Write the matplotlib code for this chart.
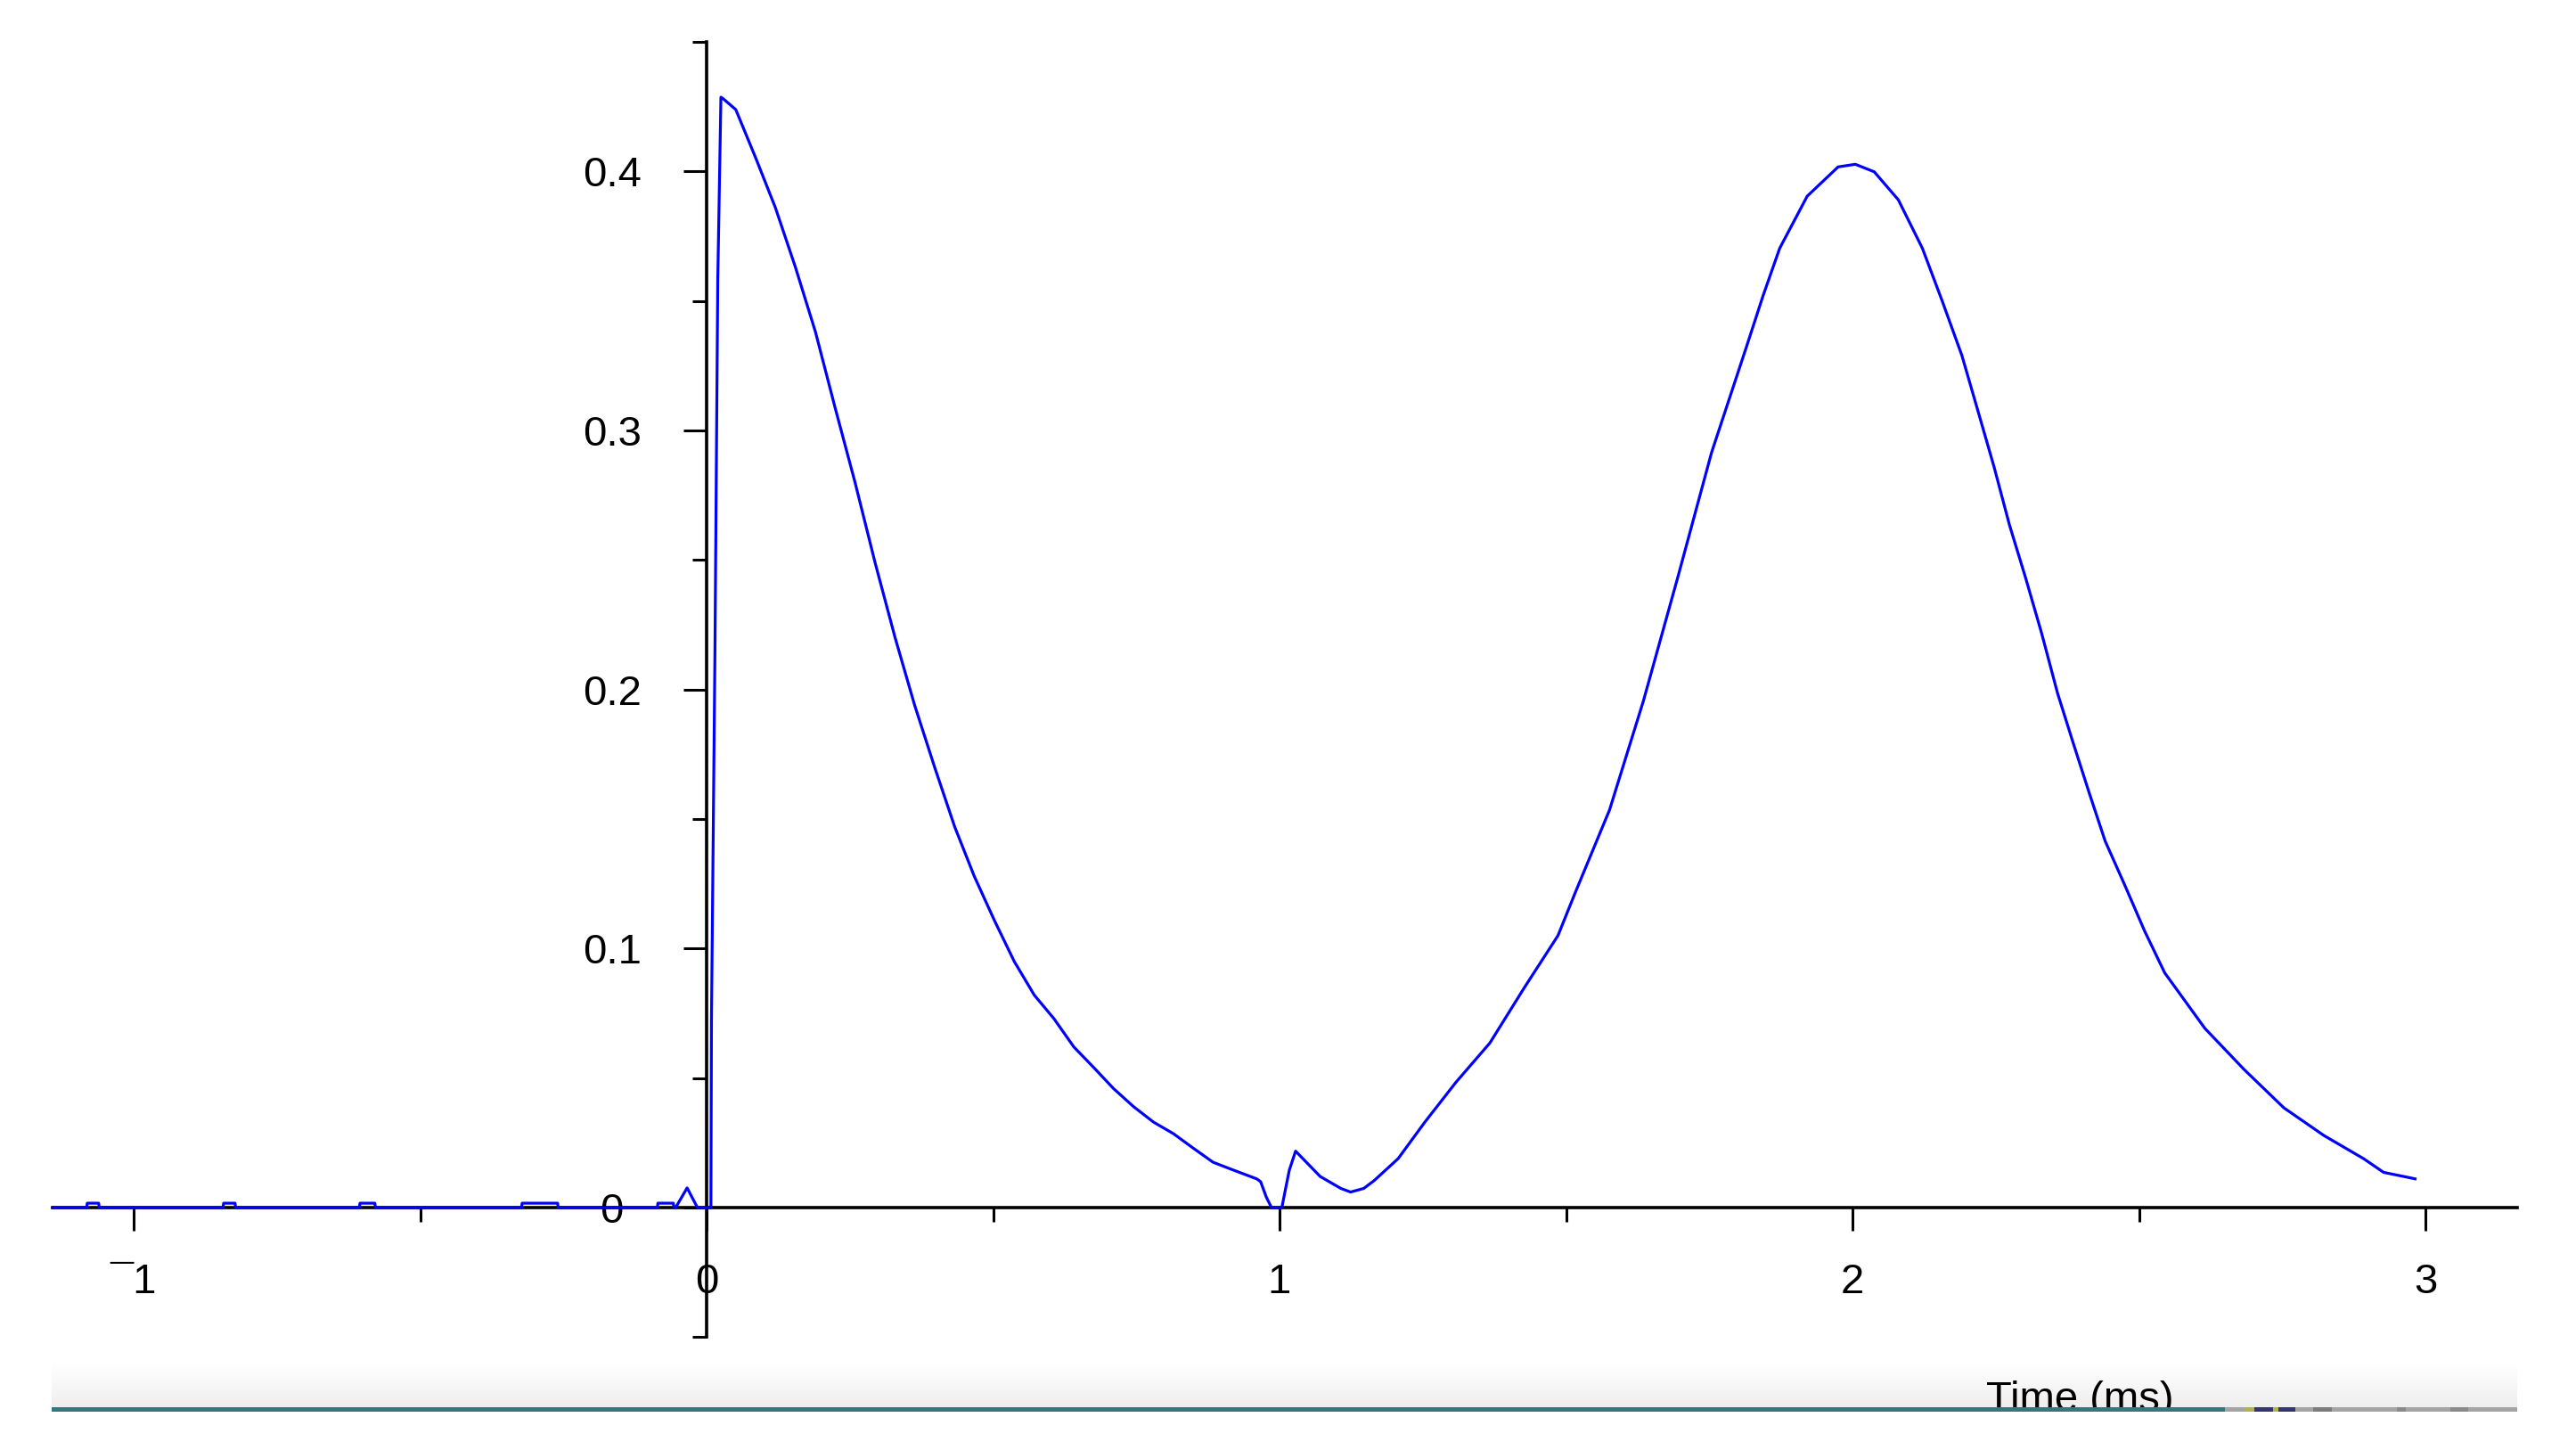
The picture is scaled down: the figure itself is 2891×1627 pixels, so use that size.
import numpy as np
import matplotlib
matplotlib.use("Agg")
import matplotlib.pyplot as plt
from matplotlib.patches import Rectangle

# values (time in ms, signal)
t_ms = [-1.14, -1.082, -1.081, -1.061, -1.060, -0.844, -0.843, -0.823, -0.822,
        -0.606, -0.605, -0.579, -0.578, -0.323, -0.322, -0.260, -0.259,
        -0.086, -0.085, -0.058, -0.057, -0.054, -0.034, -0.016,
        0.0075, 0.0085, 0.0146, 0.0195, 0.025, 0.029, 0.051, 0.086, 0.120,
        0.155, 0.190, 0.224, 0.259, 0.294, 0.329, 0.363, 0.398, 0.433, 0.467,
        0.502, 0.537, 0.572, 0.606, 0.641, 0.676, 0.710, 0.745, 0.780, 0.815,
        0.849, 0.884, 0.918, 0.960, 0.967, 0.977, 0.986, 1.004, 1.017, 1.028,
        1.071, 1.107, 1.124, 1.147, 1.165, 1.207, 1.254, 1.308, 1.367, 1.427,
        1.486, 1.516, 1.576, 1.635, 1.695, 1.754, 1.814, 1.844, 1.873, 1.921,
        1.975, 2.005, 2.038, 2.080, 2.122, 2.156, 2.191, 2.219, 2.247, 2.274,
        2.302, 2.330, 2.358, 2.385, 2.413, 2.441, 2.476, 2.510, 2.545, 2.615,
        2.684, 2.753, 2.823, 2.892, 2.927, 2.982]
signal = [0, 0, 0.0017, 0.0017, 0, 0, 0.0017, 0.0017, 0,
          0, 0.0017, 0.0017, 0, 0, 0.0017, 0.0017, 0,
          0, 0.0017, 0.0017, 0, 0, 0.0076, 0,
          0, 0.072, 0.215, 0.358, 0.4286, 0.428, 0.4238, 0.405, 0.386,
          0.363, 0.338, 0.309, 0.280, 0.249, 0.220, 0.194, 0.170, 0.147, 0.128,
          0.111, 0.095, 0.082, 0.073, 0.062, 0.054, 0.046, 0.039, 0.033, 0.0285,
          0.023, 0.0175, 0.0146, 0.0111, 0.010, 0.004, 0.0, 0.0, 0.0144, 0.0218,
          0.012, 0.0074, 0.006, 0.0074, 0.0104, 0.0189, 0.0331, 0.0484, 0.0635, 0.0848,
          0.1050, 0.1215, 0.1535, 0.1955, 0.2432, 0.2914, 0.3316, 0.352, 0.3703, 0.3904,
          0.4017, 0.4027, 0.3998, 0.389, 0.3703, 0.3503, 0.3289, 0.3075, 0.286, 0.2635,
          0.2432, 0.2218, 0.1985, 0.1795, 0.1602, 0.1415, 0.1241, 0.1067, 0.0906, 0.0692,
          0.0532, 0.0385, 0.0278, 0.0189, 0.0136, 0.0111]

x_major = [-1, 0, 1, 2, 3]
x_labels = ["\u00af1", "0", "1", "2", "3"]
x_minor = [-0.5, 0.5, 1.5, 2.5]
y_major = [0, 0.1, 0.2, 0.3, 0.4]
y_labels = ["0", "0.1", "0.2", "0.3", "0.4"]
y_minor = [-0.05, 0.05, 0.15, 0.25, 0.35, 0.45]
x_label = "Time (ms)"

W, H = 2891, 1627
fam = ["Liberation Sans Narrow", "Liberation Sans", "DejaVu Sans"]
plt.rcParams["font.family"] = fam

fig = plt.figure(figsize=(W / 100, H / 100), dpi=100)
fig.patch.set_facecolor("white")

# axes filling the whole image; origin at pixel (793, 1355)
x0, sx = 793, 643.0
y0, sy = 1355, 2907.0
ax = fig.add_axes([0, 0, 1, 1])
ax.set_xlim(-x0 / sx, (W - x0) / sx)
ax.set_ylim((y0 - H) / sy, y0 / sy)
ax.patch.set_alpha(0)

ax.plot(t_ms, signal, color="#0000ff", lw=2.3, zorder=3)

for side in ["top", "right"]:
    ax.spines[side].set_visible(False)
ax.spines["left"].set_position(("data", 0))
ax.spines["bottom"].set_position(("data", 0))
ax.spines["left"].set_bounds(-0.05, 0.45)
ax.spines["bottom"].set_bounds(-1.141, 3.16)
for side in ["left", "bottom"]:
    ax.spines[side].set_linewidth(2.6)

ax.set_xticks(x_major)
ax.set_xticklabels(x_labels)
ax.set_xticks(x_minor, minor=True)
ax.set_yticks(y_major)
ax.set_yticklabels(y_labels)
ax.set_yticks(y_minor, minor=True)

ax.tick_params(axis="both", which="major", direction="out", length=18.5, width=2.2,
               labelsize=34, colors="black")
ax.tick_params(axis="both", which="minor", direction="out", length=11.5, width=2.2)
ax.tick_params(axis="x", which="major", pad=26)
ax.tick_params(axis="y", which="major", pad=58)
for lbl in ax.get_yticklabels():
    lbl.set_horizontalalignment("center")

# bottom strip of the screenshot (window edge)
ov = fig.add_axes([0, 0, 1, 1], zorder=5)
ov.patch.set_alpha(0)
ov.axis("off")
grad = np.linspace(1.0, 0.935, 60)
img = np.dstack([np.repeat(grad[:, None], 2, axis=1)] * 3)
ov.imshow(img, extent=[58, 2825, 1579, 1530], aspect="auto", interpolation="bilinear", zorder=1)
ov.text(2334, 1549, x_label, ha="center", va="top", fontsize=34, color="black", zorder=2)
ov.add_patch(Rectangle((0, 1583.5), W, H - 1583.5, color="white", zorder=3, lw=0))
ov.add_patch(Rectangle((58, 1579), 2497 - 58, 4.5, color="#2f7a7d", zorder=4, lw=0))
ov.add_patch(Rectangle((2497, 1579), 2825 - 2497, 4.5, color="#a4a4a4", zorder=4, lw=0))
for a, b, c in [(2519, 2530, "#b3b34a"), (2530, 2551, "#34346e"), (2551, 2557, "#b3b34a"),
                (2557, 2576, "#34346e"), (2596, 2617, "#7c7c7c"), (2690, 2700, "#8a8a8a"),
                (2750, 2770, "#8a8a8a")]:
    ov.add_patch(Rectangle((a, 1579), b - a, 4.5, color=c, zorder=5, lw=0))
ov.set_xlim(0, W)
ov.set_ylim(H, 0)

fig.savefig("out.png", dpi=100)
